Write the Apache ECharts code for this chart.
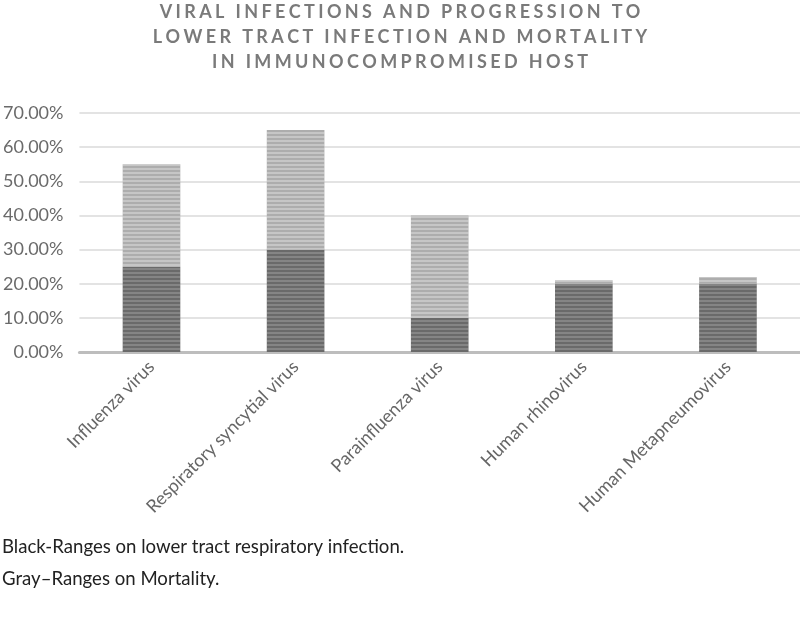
<!DOCTYPE html>
<html>
<head>
<meta charset="utf-8">
<script src="https://cdn.jsdelivr.net/npm/echarts@6/dist/echarts.min.js"></script>
<style>html,body{margin:0;padding:0;background:#fff}#c{width:800px;height:617px}</style>
</head>
<body>
<div id="c"></div>
<script>
var categories = ['Influenza virus', 'Respiratory syncytial virus', 'Parainfluenza virus', 'Human rhinovirus', 'Human Metapneumovirus'];
var lowerTract = [25, 30, 10, 20, 20];   // black segment (%)
var mortality = [30, 35, 30, 1, 2];      // gray segment stacked on top (%)
var yTicks = [0, 10, 20, 30, 40, 50, 60, 70];
var titleLines = ['VIRAL INFECTIONS AND PROGRESSION TO', 'LOWER TRACT INFECTION AND MORTALITY', 'IN IMMUNOCOMPROMISED HOST'];
var notes = ['Black-Ranges on lower tract respiratory infection.', 'Gray\u2013Ranges on Mortality.'];

function spaced(s) { return s.split('').join('\u2009\u200A'); }

var chart = echarts.init(document.getElementById('c'), null, {renderer: 'canvas'});
var stripe = function (c) {
  return {symbol: 'rect', symbolSize: 1, dashArrayX: [1, 0], dashArrayY: [2, 2], color: c, rotation: 0};
};
chart.setOption({
  animation: false,
  title: {
    text: titleLines.map(spaced).join('\n'),
    left: 'center',
    top: 0,
    padding: 0,
    textStyle: {fontFamily: 'Lato', fontWeight: 'bold', fontSize: 18, color: '#7a7a7a', lineHeight: 25}
  },
  graphic: [
    {type: 'text', left: 2, top: 537, style: {text: notes[0], font: '18.6px Lato', fill: '#222'}},
    {type: 'text', left: 2, top: 569, style: {text: notes[1], font: '18.6px Lato', fill: '#222'}}
  ],
  grid: {left: 78, right: 0, top: 113, bottom: 265, containLabel: false},
  xAxis: {
    type: 'category',
    data: categories,
    axisLine: {show: true, lineStyle: {color: '#bdbdbd', width: 3}},
    axisTick: {show: false},
    axisLabel: {rotate: 45, interval: 0, margin: 12, fontFamily: 'Lato', fontSize: 18, color: '#666'}
  },
  yAxis: {
    type: 'value',
    min: 0, max: 70, interval: 10,
    axisLine: {show: false},
    axisTick: {show: false},
    splitLine: {lineStyle: {color: '#dadada', width: 1.5}},
    axisLabel: {
      fontFamily: 'Lato', fontSize: 18, color: '#6a6a6a', margin: 16,
      formatter: function (v) { return yTicks.indexOf(v) >= 0 ? v.toFixed(2) + '%' : ''; }
    }
  },
  series: [
    {
      name: 'Lower tract', type: 'bar', stack: 't', barWidth: '40%',
      data: lowerTract,
      itemStyle: {color: '#6a6a6a', decal: stripe('rgba(255,255,255,0.18)')}
    },
    {
      name: 'Mortality', type: 'bar', stack: 't', barWidth: '40%',
      data: mortality,
      itemStyle: {color: '#adadad', decal: stripe('rgba(255,255,255,0.3)')}
    }
  ]
});
</script>
</body>
</html>
